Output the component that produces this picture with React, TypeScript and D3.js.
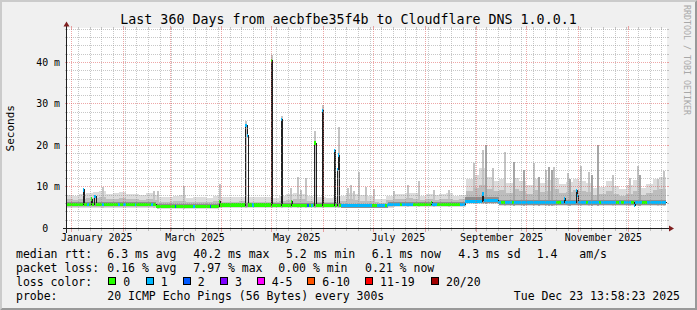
import React from "react";
import * as d3 from "d3";

// ---------- DATA ----------
const startDate = new Date(Date.UTC(2024, 11, 28, 13, 58, 23));
const endDate = new Date(Date.UTC(2025, 11, 23, 13, 58, 23));
const totalDays = 360;

// median rtt (ms) as step changes: [day since start, value]
const medianSteps: [number, number][] = [
  [0, 5.85], [10.4, 9.3], [11.0, 5.7], [12.0, 5.85], [14.8, 7.1], [15.4, 5.85],
  [17.0, 7.8], [18.0, 5.85], [54, 5.3], [91.8, 6.5], [92.4, 5.65],
  [107.6, 24.9], [108.4, 22.5], [109.4, 5.65], [122.8, 40.4], [123.4, 5.6],
  [129.0, 26.3], [129.6, 5.6], [134.8, 6.5], [135.4, 5.6], [149.0, 20.6],
  [149.9, 5.6], [153.8, 28.4], [154.4, 5.6], [160.8, 18.8], [161.5, 5.6],
  [162.6, 14.2], [163.2, 17.7], [164.0, 5.45], [193.2, 5.85], [219.0, 6.3],
  [219.6, 5.85], [239.4, 6.55], [249.8, 8.3], [250.5, 6.75], [259.2, 6.2],
  [298.8, 7.3], [299.4, 6.2], [306.0, 9.2], [306.6, 8.0], [307.2, 6.2],
  [340.8, 5.6], [341.4, 6.2],
];

// loss periods (non-zero): [start day, end day, lost pings]
const lossSegments: [number, number, number][] = [
  [10.4, 11.0, 1], [12.6, 13.5, 1], [17.0, 18.0, 1], [21.6, 22.5, 1], [31.2, 32.1, 1],
  [34.2, 36.0, 1], [41.1, 42.0, 1], [51.0, 51.9, 1], [65.1, 66.0, 2], [76.2, 77.1, 1],
  [86.1, 87.0, 2], [107.6, 109.4, 1], [111.6, 112.5, 1], [129.0, 129.6, 1],
  [144.6, 145.5, 2], [147.0, 147.9, 1], [153.8, 154.4, 1], [160.8, 161.5, 1],
  [162.6, 164.0, 1], [165.0, 183.6, 1], [186.6, 191.4, 1], [192.6, 200.4, 1],
  [201.6, 208.2, 1], [219.6, 222.6, 1], [236.4, 261.0, 1], [263.4, 267.6, 1],
  [268.8, 294.0, 1], [297.0, 312.0, 1], [313.2, 319.8, 1], [321.0, 329.7, 1],
  [331.5, 333.0, 1], [334.5, 339.0, 1], [340.5, 345.6, 1], [348.3, 360.0, 1],
];

// smoke, 4-day blocks (ms)
const smokeOuter: number[] = [
  8.0, 7.8, 8.2, 8.6, 8.8, 9.0, 8.4, 8.6, 8.8, 8.2,
  8.4, 8.1, 8.6, 8.0, 7.5, 7.6, 7.8, 8.0, 7.4, 7.6,
  7.5, 7.4, 7.8, 7.6, 7.5, 7.6, 7.7, 7.6, 7.5, 7.6,
  7.7, 7.4, 7.8, 8.3, 8.6, 8.4, 7.8, 7.6, 7.5, 7.4,
  7.6, 7.9, 8.5, 8.3, 8.0, 7.8, 7.2, 7.0, 7.9, 8.4,
  8.2, 8.6, 8.5, 7.9, 8.4, 8.0, 8.2, 8.5, 7.9, 8.1,
  12.0, 13.0, 14.5, 12.5, 11.5, 12.0, 11.0, 12.2, 11.5, 10.5,
  12.0, 11.0, 11.8, 12.2, 10.8, 11.2, 12.0, 11.5, 11.0, 9.8,
  10.0, 11.5, 10.2, 9.5, 10.5, 11.8, 9.8, 10.8, 12.0, 12.5,
];
const smokeMid: number[] = [
  7.0, 6.9, 7.1, 7.3, 7.4, 7.5, 7.1, 7.2, 7.3, 7.0,
  7.1, 6.9, 7.2, 6.9, 6.4, 6.5, 6.6, 6.7, 6.4, 6.5,
  6.4, 6.4, 6.6, 6.5, 6.4, 6.5, 6.6, 6.5, 6.4, 6.5,
  6.5, 6.4, 6.6, 6.9, 7.1, 7.0, 6.6, 6.5, 6.4, 6.4,
  6.5, 6.7, 7.0, 6.9, 6.7, 6.6, 6.3, 6.2, 6.9, 7.2,
  7.0, 7.3, 7.2, 6.9, 7.1, 6.9, 7.0, 7.2, 6.9, 7.0,
  9.0, 9.8, 10.5, 9.5, 9.0, 9.2, 8.6, 9.4, 9.0, 8.4,
  9.2, 8.7, 9.1, 9.4, 8.5, 8.8, 9.2, 9.0, 8.7, 8.0,
  8.2, 9.0, 8.3, 7.9, 8.4, 9.1, 8.0, 8.6, 9.2, 9.5,
];
const blockDays = 4;

// lowest ping per period: [start, end, ms]
const smokeLowSegs: [number, number, number][] = [
  [0, 54, 5.0], [54, 92, 4.7], [92, 165, 5.0], [165, 193, 4.85],
  [193, 239.4, 5.25], [239.4, 260, 5.9], [260, 360, 5.5],
];
// dense core of pings: [start, end, lo, hi]
const innerSegs: [number, number, number, number][] = [
  [0, 54, 5.4, 6.4], [54, 92, 4.9, 5.9], [92, 165, 5.2, 6.05], [165, 193, 5.05, 5.9],
  [193, 239.4, 5.45, 6.35], [239.4, 260, 6.2, 7.5], [260, 360, 5.75, 6.95],
];

// single-period smoke peaks [day, ms]
const smokeSpikes: [number, number][] = [
  [21.8, 10.0], [52.0, 9.1], [54.4, 9.1], [70.0, 10.2], [92.0, 10.7], [107.4, 26.0],
  [122.8, 41.8], [129.0, 27.0], [134.4, 9.8], [138.4, 12.3], [140.4, 9.3], [143.4, 12.1],
  [149.0, 23.6], [153.8, 29.8], [163.4, 24.5], [168.4, 9.7], [170.4, 10.5], [172.4, 9.1],
  [175.0, 13.7], [179.4, 10.1], [184.4, 9.5], [196.4, 9.1], [204.4, 10.5], [211.4, 11.4],
  [220.4, 9.3], [229.4, 9.3], [244.4, 15.9], [249.4, 18.9], [255.4, 14.5], [262.8, 18.5],
  [280.4, 15.7], [287.4, 14.1], [292.4, 14.9], [300.4, 13.3], [308.4, 15.1], [313.4, 13.7],
  [327.4, 12.9], [338.0, 12.1], [342.4, 15.1], [354.4, 11.9], [358.0, 13.9],
];
const darkSpikes: [number, number][] = [
  [251.4, 20.1], [268.0, 16.1], [274.0, 14.1], [289.0, 14.9], [291.0, 14.1],
  [318.4, 20.1], [283.0, 12.5], [302.0, 12.0], [315.0, 13.0], [344.0, 12.8],
];

const yTickValues = [0, 10, 20, 30, 40];
const yTickLabels = ["0  ", "10 m", "20 m", "30 m", "40 m"];
const yMax = 48.19;

const monthLabelMonths = [0, 2, 4, 6, 8, 10]; // 2025
const title = "Last 360 Days from aecbfbe35f4b to Cloudflare DNS 1.0.0.1";

const medianStats = ["6.3 ms avg", "40.2 ms max", "5.2 ms min", "6.1 ms now", "4.3 ms sd", "1.4", "am/s"];
const lossStats = ["0.16 % avg", "7.97 % max", "0.00 % min", "0.21 % now"];
const lossLabels = ["0", "1", "2", "3", "4-5", "6-10", "11-19", "20/20"];
const lossColors = ["#26ff00", "#00b8ff", "#0059ff", "#7e00ff", "#ff00ff", "#ff5500", "#ff0000", "#a00000"];
const probeText = "20 ICMP Echo Pings (56 Bytes) every 300s";
const stampText = "Tue Dec 23 13:58:23 2025";

// ---------- LAYOUT ----------
const W = 697, H = 310;
const X0 = 67, X1 = 667, Y0 = 228.5, Y1 = 28.5;
const medianStatX = [107.3, 193.3, 286, 371.7, 458.3, 536.7, 579.3];
const lossStatX = [107.3, 193.3, 278.3, 365];
const boxX = [108.3, 145.7, 182.7, 220, 256.7, 307.3, 365, 431];
const rowY = [257.5, 271.5, 285.5, 299.5];
const MONO = "'DejaVu Sans Mono', monospace";

export default function App() {
  const xDay = d3.scaleLinear().domain([0, totalDays]).range([66, 666]);
  const xTime = d3.scaleUtc().domain([startDate, endDate]).range([66, 666]);
  const y = d3.scaleLinear().domain([0, yMax]).range([Y0, Y1]);
  const crisp = (v: number) => Math.floor(v) + 0.5;

  const medianAt = (d: number) => {
    let v = medianSteps[0][1];
    for (const [s, val] of medianSteps) {
      if (s <= d) v = val;
      else break;
    }
    return v;
  };
  const segPoints = (a: number, b: number): [number, number][] => {
    const pts: [number, number][] = [[a, medianAt(a)]];
    for (const [s, v] of medianSteps) if (s > a && s < b) pts.push([s, v]);
    pts.push([b, medianAt(b - 1e-6)]);
    return pts;
  };
  const lowAt = (d: number) => {
    for (const [s, e, v] of smokeLowSegs) if (d >= s && d < e) return v;
    return smokeLowSegs[smokeLowSegs.length - 1][2];
  };

  const band = d3
    .area<[number, number]>()
    .x((p) => xDay(p[0]))
    .y0((p) => y(p[1]) + 1.6)
    .y1((p) => y(p[1]) - 1.6)
    .curve(d3.curveStepAfter);
  const medLine = d3
    .line<[number, number]>()
    .x((p) => Math.round(xDay(p[0])) + 0.5)
    .y((p) => y(p[1]))
    .curve(d3.curveStepAfter);

  const fullMedian: [number, number][] = [...medianSteps, [totalDays, medianSteps[medianSteps.length - 1][1]]];

  const months = d3.utcMonth.range(d3.utcMonth.ceil(startDate), endDate);
  const weeks = d3.utcSunday.range(startDate, endDate);
  const monthSet = new Set(months.map((m) => crisp(xTime(m))));
  const minorY = d3.range(2, yMax, 2).filter((v) => v % 10 !== 0);
  const majorY = [10, 20, 30, 40];

  const gridCol = "rgba(143,143,143,0.5)";
  const mgridCol = "rgba(222,80,80,0.5)";

  return (
    <svg
      width={W}
      height={H}
      style={{ position: "absolute", left: 0, top: 0, display: "block" }}
      xmlns="http://www.w3.org/2000/svg"
    >
      <defs>
        <clipPath id="canvasClip">
          <rect x={X0} y={Y1} width={X1 - X0} height={Y0 - Y1} />
        </clipPath>
      </defs>
      {/* background and 3D border */}
      <rect x={0} y={0} width={W} height={H} fill="#f0f0f0" />
      <polygon points={`0,0 ${W},0 ${W - 2},2 2,2 2,${H - 2} 0,${H}`} fill="#cbcbcb" />
      <polygon points={`${W},0 ${W},${H} 0,${H} 2,${H - 2} ${W - 2},${H - 2} ${W - 2},2`} fill="#999999" />
      {/* canvas */}
      <rect x={X0} y={Y1 - 0.5} width={X1 - X0} height={Y0 - Y1 + 0.5} fill="#ffffff" />

      <g clipPath="url(#canvasClip)" shapeRendering="crispEdges">
        {/* outer smoke */}
        {smokeOuter.map((v, k) => {
          const d = k * blockDays;
          const xa = xDay(d), xb = xDay(d + blockDays);
          return <rect key={"o" + k} x={xa} width={xb - xa} y={y(v)} height={y(lowAt(d)) - y(v)} fill="#dcdcdc" />;
        })}
        {smokeSpikes.map(([d, v], i) => (
          <rect key={"s" + i} x={xDay(d)} width={2} y={y(v)} height={y(lowAt(d)) - y(v)} fill="#c4c4c4" />
        ))}
        {smokeMid.map((v, k) => {
          const d = k * blockDays;
          const xa = xDay(d), xb = xDay(d + blockDays);
          const lo = lowAt(d) + 0.25;
          return <rect key={"m" + k} x={xa} width={xb - xa} y={y(v)} height={Math.max(0, y(lo) - y(v))} fill="#bdbdbd" />;
        })}
        {darkSpikes.map(([d, v], i) => (
          <rect key={"ds" + i} x={xDay(d)} width={2} y={y(v)} height={y(lowAt(d)) - y(v)} fill="#a6a6a6" />
        ))}
        {innerSegs.map(([s, e, lo, hi], i) => (
          <rect key={"i" + i} x={xDay(s)} width={xDay(e) - xDay(s)} y={y(hi)} height={y(lo) - y(hi)} fill="#8e8e8e" />
        ))}
        {/* median line */}
        <path d={medLine(fullMedian) || ""} fill="none" stroke="#202020" strokeWidth={1} />
        {/* loss coloured median band */}
        <path d={band(segPoints(0, totalDays)) || ""} fill={lossColors[0]} />
        {lossSegments.map(([s, e, l], i) => (
          <path key={"l" + i} d={band(segPoints(s, e)) || ""} fill={lossColors[l]} />
        ))}
      </g>

      {/* grid on top */}
      <g shapeRendering="crispEdges" strokeWidth={1}>
        {minorY.map((v) => (
          <g key={"hy" + v}>
            <line x1={X0} x2={X1} y1={crisp(y(v))} y2={crisp(y(v))} stroke={gridCol} strokeDasharray="1 1" />
            <line x1={X0 - 2} x2={X0} y1={crisp(y(v))} y2={crisp(y(v))} stroke={gridCol} />
            <line x1={X1} x2={X1 + 2} y1={crisp(y(v))} y2={crisp(y(v))} stroke={gridCol} />
          </g>
        ))}
        {weeks
          .filter((w) => !monthSet.has(crisp(xTime(w))) && xTime(w) > X0)
          .map((w, i) => {
            const xx = crisp(xTime(w));
            return (
              <g key={"wk" + i}>
                <line x1={xx} x2={xx} y1={Y1} y2={Y0} stroke={gridCol} strokeDasharray="1 1" />
                <line x1={xx} x2={xx} y1={Y0} y2={Y0 + 2} stroke={gridCol} />
                <line x1={xx} x2={xx} y1={Y1 - 2} y2={Y1} stroke={gridCol} />
              </g>
            );
          })}
        {majorY.map((v) => (
          <g key={"my" + v}>
            <line x1={X0} x2={X1} y1={crisp(y(v))} y2={crisp(y(v))} stroke={mgridCol} strokeDasharray="1 1" />
            <line x1={X0 - 2} x2={X0} y1={crisp(y(v))} y2={crisp(y(v))} stroke={mgridCol} />
            <line x1={X1} x2={X1 + 2} y1={crisp(y(v))} y2={crisp(y(v))} stroke={mgridCol} />
          </g>
        ))}
        {months.map((m, i) => {
          const xx = crisp(xTime(m));
          return (
            <g key={"mo" + i}>
              <line x1={xx} x2={xx} y1={Y1} y2={Y0} stroke={mgridCol} strokeDasharray="1 1" />
              <line x1={xx} x2={xx} y1={Y0} y2={Y0 + 3} stroke={mgridCol} />
              <line x1={xx} x2={xx} y1={Y1 - 3} y2={Y1} stroke={mgridCol} />
            </g>
          );
        })}
      </g>

      {/* axes */}
      <g shapeRendering="crispEdges">
        <line x1={X0 - 4} x2={X1 + 4} y1={Y0} y2={Y0} stroke="#1f1f1f" strokeWidth={1} />
        <line x1={X0 - 0.5} x2={X0 - 0.5} y1={Y0 + 4} y2={Y1 - 4} stroke="#1f1f1f" strokeWidth={1} />
      </g>
      <polygon points={`${X1 + 2},${Y0 - 3} ${X1 + 2},${Y0 + 3} ${X1 + 7},${Y0}`} fill="#7f1f1f" />
      <polygon points={`${X0 - 3.5},${Y1 - 2} ${X0 + 2.5},${Y1 - 2} ${X0 - 0.5},${Y1 - 7}`} fill="#7f1f1f" />

      {/* y tick labels */}
      {yTickValues.map((v, i) => (
        <text
          key={"yl" + v}
          x={60}
          y={crisp(y(v)) + 3.6}
          textAnchor="end"
          fontFamily={MONO}
          fontSize={9.9}
          fill="#000"
          style={{ whiteSpace: "pre" }}
        >
          {yTickLabels[i]}
        </text>
      ))}
      {/* x month labels */}
      {monthLabelMonths.map((mo) => {
        const d0 = new Date(Date.UTC(2025, mo, 1));
        const xc = xTime(d3.utcDay.offset(d0, 15));
        return (
          <text key={"xl" + mo} x={xc} y={241} textAnchor="middle" fontFamily={MONO} fontSize={9.9} fill="#000">
            {d3.utcFormat("%B %Y")(d0)}
          </text>
        );
      })}

      {/* titles */}
      <text x={348.5} y={23.5} textAnchor="middle" fontFamily={MONO} fontSize={13.3} fill="#000">
        {title}
      </text>
      <text transform="translate(14.3,128.3) rotate(-90)" textAnchor="middle" fontFamily={MONO} fontSize={11} fill="#000">
        Seconds
      </text>
      <text transform="translate(684.3,5) rotate(90)" fontFamily={MONO} fontSize={8.3} fill="#a8a8a8">
        RRDTOOL / TOBI OETIKER
      </text>

      {/* legend */}
      <g fontFamily={MONO} fontSize={11.5} fill="#000">
        <text x={16} y={rowY[0]}>median rtt:</text>
        {medianStats.map((t, i) => (
          <text key={"ms" + i} x={medianStatX[i]} y={rowY[0]}>{t}</text>
        ))}
        <text x={16} y={rowY[1]}>packet loss:</text>
        {lossStats.map((t, i) => (
          <text key={"ls" + i} x={lossStatX[i]} y={rowY[1]}>{t}</text>
        ))}
        <text x={16} y={rowY[2]}>loss color:</text>
        {lossLabels.map((t, i) => (
          <g key={"lc" + i}>
            <rect x={boxX[i] + 0.5} y={277.5} width={7} height={7} fill={lossColors[i]} stroke="#000" strokeWidth={1} shapeRendering="crispEdges" />
            <text x={boxX[i] + 15} y={rowY[2]}>{t}</text>
          </g>
        ))}
        <text x={16} y={rowY[3]}>probe:</text>
        <text x={107.3} y={rowY[3]}>{probeText}</text>
        <text x={680} y={rowY[3]} textAnchor="end">{stampText}</text>
      </g>
    </svg>
  );
}
